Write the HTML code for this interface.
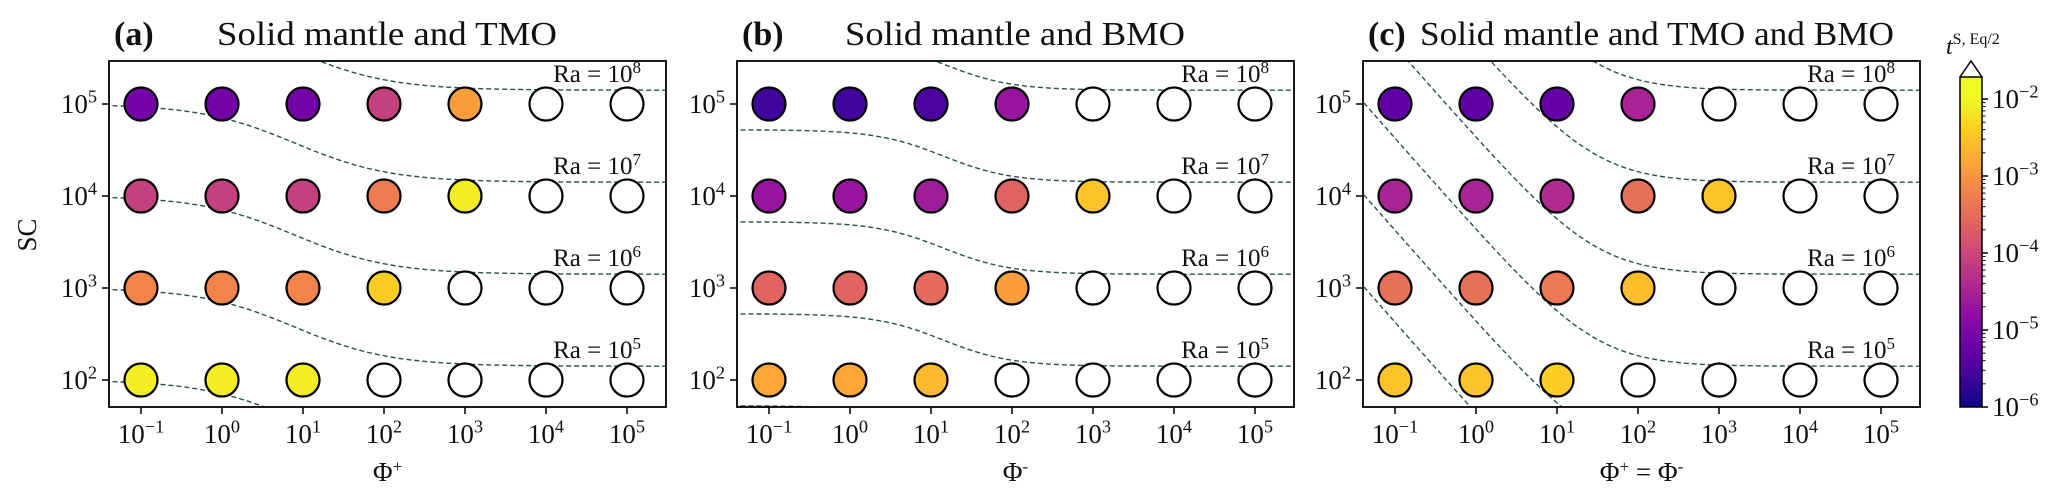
<!DOCTYPE html>
<html><head><meta charset="utf-8">
<style>
html,body{margin:0;padding:0;background:#fff;width:2067px;height:500px;overflow:hidden;}
svg{display:block;font-family:"Liberation Serif","DejaVu Serif",serif;}
</style></head>
<body>
<svg id="fig" width="2067" height="500" viewBox="0 0 2067 500" xmlns="http://www.w3.org/2000/svg"></svg>
<script>
// ---- data ----
const phiExp = [-1, 0, 1, 2, 3, 4, 5];
const scExp = [5, 4, 3, 2];
const raLabelExp = [8, 7, 6, 5];
const panelLetters = ["(a)", "(b)", "(c)"];
const panelTitles = ["Solid mantle and TMO", "Solid mantle and BMO", "Solid mantle and TMO and BMO"];
// log10 t^{S,Eq/2}; null = open (white) circle. rows: SC=1e5,1e4,1e3,1e2
const valuesA = [
  [-5.1, -5.1, -5.1, -4.1, -2.9, null, null],
  [-4.1, -4.1, -4.1, -3.3, -2.1, null, null],
  [-3.2, -3.2, -3.2, -2.4, null, null, null],
  [-2.1, -2.1, -2.1, null, null, null, null]
];
const valuesB = [
  [-5.6, -5.6, -5.5, -4.7, null, null, null],
  [-4.7, -4.7, -4.6, -3.6, -2.5, null, null],
  [-3.6, -3.6, -3.5, -2.9, null, null, null],
  [-2.8, -2.8, -2.6, null, null, null, null]
];
const valuesC = [
  [-5.3, -5.3, -5.25, -4.5, null, null, null],
  [-4.5, -4.5, -4.4, -3.45, -2.5, null, null],
  [-3.45, -3.45, -3.35, -2.55, null, null, null],
  [-2.5, -2.5, -2.4, null, null, null, null]
];
const curveRaA = [4, 5, 6, 7, 8];
const curveRaB = [4, 5, 6, 7, 8];
const curveRaC = [3, 4, 5, 6, 7, 8];
const cbarTickExp = [-2, -3, -4, -5, -6];

// ---- helpers ----
const NS = "http://www.w3.org/2000/svg";
const svg = document.getElementById("fig");
function mk(tag, attrs, parent) {
  const e = document.createElementNS(NS, tag);
  for (const k in attrs) e.setAttribute(k, attrs[k]);
  (parent || svg).appendChild(e);
  return e;
}
const plasma = ["#0d0887","#41049d","#6a00a8","#8f0da4","#b12a90","#cc4778","#e16462","#f2844b","#fca636","#fcce25","#f0f921"];
function hex(c){return [parseInt(c.slice(1,3),16),parseInt(c.slice(3,5),16),parseInt(c.slice(5,7),16)];}
function cmap(f) {
  f = Math.max(0, Math.min(1, f));
  const p = f * 10, i = Math.min(9, Math.floor(p)), t = p - i;
  const a = hex(plasma[i]), b = hex(plasma[i + 1]);
  return "rgb(" + a.map((v, j) => Math.round(v + (b[j] - v) * t)).join(",") + ")";
}
function powText(parent, x, y, base, exp, size, anchor, name) {
  const t = mk("text", {x: x, y: y, "font-size": size, "text-anchor": anchor || "middle", fill: "#111"}, parent);
  
  
  const s1 = mk("tspan", {}, t); s1.textContent = base;
  const s2 = mk("tspan", {dy: -size * 0.38, "font-size": size * 0.68}, t); s2.textContent = exp;
  return t;
}

const TOP = 61, BOT = 407, W = 557;
const panelLefts = [109, 737, 1363];
const allValues = [valuesA, valuesB, valuesC];
const allCurves = [curveRaA, curveRaB, curveRaC];
const names = ["a", "b", "c"];
const titleX = [217, 845, 1420];
const titleLen = [340, 340, 474];

panelLefts.forEach((L, p) => {
  const g = mk("g", {});
  
  
  const xs = lx => L + 32 + (lx + 1) * 81;
  const ys = ls => 104 + (5 - ls) * 92;

  const cp = mk("clipPath", {id: "clip" + p}, g);
  mk("rect", {x: L, y: TOP, width: W, height: BOT - TOP}, cp);

  const cg = mk("g", {"clip-path": "url(#clip" + p + ")"}, g);
  
  
  allCurves[p].forEach(r => {
    let d = "";
    for (let i = 0; i <= 200; i++) {
      const lx = -1.45 + i * (7.0 / 200);
      let ls;
      if (p === 0) ls = r - 2.85 + 0.85 / (1 + Math.exp(1.7 * (lx - 0.9)));
      else if (p === 1) ls = r - 2.85 + 0.57 / (1 + Math.exp(2.4 * (lx - 1.15)));
      else ls = r - 2.85 + Math.log10(1 + 30 / Math.pow(10, lx));
      d += (i ? "L" : "M") + xs(lx).toFixed(1) + "," + ys(ls).toFixed(1);
    }
    const path = mk("path", {d: d, fill: "none", stroke: "#2f4f4f", "stroke-width": 1.4, "stroke-dasharray": "5,3"}, cg);
    
    
  });

  raLabelExp.forEach(r => {
    const y = ys(r - 2.85) - 8;
    const t = mk("text", {x: L + W - 25, y: y, "font-size": 25, "text-anchor": "end", fill: "#111"}, g);
    
    
    const a = mk("tspan", {}, t); a.textContent = "Ra = 10";
    const b = mk("tspan", {dy: -9, "font-size": 17}, t); b.textContent = String(r);
  });

  const vals = allValues[p];
  scExp.forEach((s, ri) => {
    phiExp.forEach((f, ci) => {
      const v = vals[ri][ci];
      const c = mk("circle", {cx: xs(f), cy: ys(s), r: 16.5, fill: v === null ? "#fff" : cmap((v + 6) / 4), stroke: "#000", "stroke-width": 2.2}, g);
      
      
    });
  });

  const fr = mk("rect", {x: L, y: TOP, width: W, height: BOT - TOP, fill: "none", stroke: "#000", "stroke-width": 1.8}, g);
  
  

  phiExp.forEach(f => {
    const x = xs(f);
    mk("line", {x1: x, y1: BOT, x2: x, y2: BOT + 7, stroke: "#000", "stroke-width": 1.5}, g);
    powText(g, x, 443, "10", f < 0 ? "−" + (-f) : String(f), 27, "middle", 'x-tick-label');
  });
  scExp.forEach(s => {
    const y = ys(s);
    mk("line", {x1: L - 7, y1: y, x2: L, y2: y, stroke: "#000", "stroke-width": 1.5}, g);
    powText(g, L - 12, y + 9, "10", String(s), 27, "end", 'y-tick-label');
  });

  const xl = mk("text", {x: L + W / 2, y: 481, "font-size": 27, "text-anchor": "middle", fill: "#111"}, g);
  
  
  if (p === 2) {
    const a = mk("tspan", {}, xl); a.textContent = "Φ";
    const b = mk("tspan", {dy: -9, "font-size": 17}, xl); b.textContent = "+";
    const c = mk("tspan", {dy: 9}, xl); c.textContent = " = Φ";
    const d = mk("tspan", {dy: -9, "font-size": 17}, xl); d.textContent = "-";
  } else {
    const a = mk("tspan", {}, xl); a.textContent = "Φ";
    const b = mk("tspan", {dy: -9, "font-size": 17}, xl); b.textContent = p === 0 ? "+" : "-";
  }

  const lt = mk("text", {x: L + 5, y: 45, "font-size": 34, "font-weight": "bold", fill: "#111"}, g);
  
  
  lt.textContent = panelLetters[p];
  const tt = mk("text", {x: titleX[p], y: 45, "font-size": 34, fill: "#111", textLength: titleLen[p], lengthAdjust: "spacingAndGlyphs"}, g);
  
  
  tt.textContent = panelTitles[p];
});

const yt = mk("text", {x: 0, y: 0, "font-size": 27, "text-anchor": "middle", fill: "#111", transform: "translate(36,235) rotate(-90)"});


yt.textContent = "SC";

// colorbar
const cb = mk("g", {});


const defs = mk("defs", {}, cb);
const lg = mk("linearGradient", {id: "cbg", x1: 0, y1: 1, x2: 0, y2: 0}, defs);
plasma.forEach((c, i) => mk("stop", {offset: (i / 10), "stop-color": c}, lg));
const CBX = 1960, CBW = 22, CBTOP = 77, CBBOT = 407;
const cy = e => 407 - (e + 6) * 77;
mk("rect", {x: CBX, y: CBTOP, width: CBW, height: cy(-2) - CBTOP, fill: plasma[10]}, cb);
mk("rect", {x: CBX, y: cy(-2), width: CBW, height: CBBOT - cy(-2), fill: "url(#cbg)"}, cb);
const tri = mk("path", {d: `M${CBX},${CBTOP} L${CBX + CBW / 2},${CBTOP - 16} L${CBX + CBW},${CBTOP}`, fill: "#fff", stroke: "#000", "stroke-width": 1.5}, cb);


mk("rect", {x: CBX, y: CBTOP, width: CBW, height: CBBOT - CBTOP, fill: "none", stroke: "#000", "stroke-width": 1.5}, cb);
for (let e = -6; e < -1.72; e++) {
  for (let m = 2; m <= 9; m++) {
    const y = cy(e + Math.log10(m));
    if (y < CBTOP) continue;
    mk("line", {x1: CBX + CBW, y1: y, x2: CBX + CBW + 3.5, y2: y, stroke: "#000", "stroke-width": 1}, cb);
  }
}
cbarTickExp.forEach(e => {
  const y = cy(e);
  mk("line", {x1: CBX + CBW, y1: y, x2: CBX + CBW + 6, y2: y, stroke: "#000", "stroke-width": 1.5}, cb);
  powText(cb, CBX + CBW + 10, y + 9, "10", "−" + (-e), 27, "start", 'colorbar-tick-label');
});
const ct = mk("text", {x: 1946, y: 54, "font-size": 24, fill: "#111"}, cb);


const c1 = mk("tspan", {"font-style": "italic"}, ct); c1.textContent = "t";
const c2 = mk("tspan", {dy: -10, "font-size": 16}, ct); c2.textContent = "S, Eq/2";
</script>
</body></html>
